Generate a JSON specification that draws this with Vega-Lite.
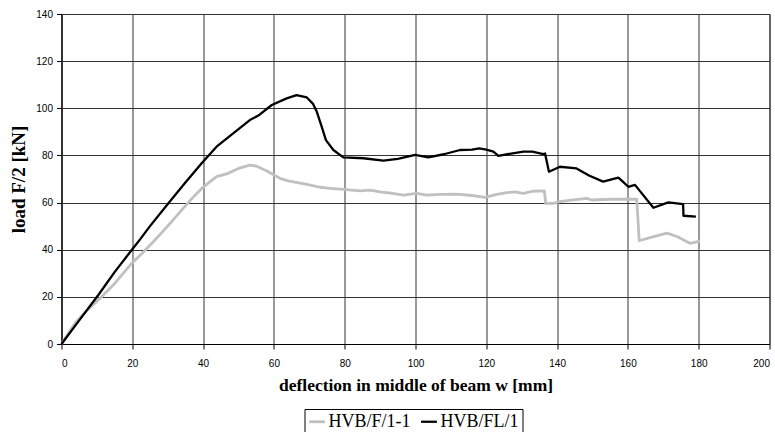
{
  "$schema": "https://vega.github.io/schema/vega-lite/v6.json",
  "width": 708,
  "height": 330,
  "autosize": {"type": "none"},
  "padding": {"left": 61.5, "top": 14, "right": 5.5, "bottom": 88},
  "background": "white",
  "config": {
    "view": {"stroke": "#333", "strokeWidth": 1},
    "axis": {
      "labelFont": "Liberation Sans",
      "labelFontSize": 10,
      "labelColor": "black",
      "titleFont": "Liberation Serif",
      "titleFontWeight": "bold",
      "titleColor": "black",
      "domainColor": "black",
      "tickColor": "black",
      "tickSize": 5,
      "gridColor": "#333",
      "gridOpacity": 1,
      "gridWidth": 1
    }
  },
  "data": {
    "values": [
      {"s":"HVB/F/1-1","i":0,"x":0,"y":0},
      {"s":"HVB/F/1-1","i":1,"x":3.8,"y":8.8},
      {"s":"HVB/F/1-1","i":2,"x":7,"y":14},
      {"s":"HVB/F/1-1","i":3,"x":10.4,"y":18.7},
      {"s":"HVB/F/1-1","i":4,"x":15.1,"y":25.8},
      {"s":"HVB/F/1-1","i":5,"x":19.8,"y":34.2},
      {"s":"HVB/F/1-1","i":6,"x":22.8,"y":38.5},
      {"s":"HVB/F/1-1","i":7,"x":26.4,"y":44.1},
      {"s":"HVB/F/1-1","i":8,"x":30,"y":50},
      {"s":"HVB/F/1-1","i":9,"x":34,"y":56.9},
      {"s":"HVB/F/1-1","i":10,"x":37,"y":62},
      {"s":"HVB/F/1-1","i":11,"x":39.6,"y":66},
      {"s":"HVB/F/1-1","i":12,"x":43.8,"y":71},
      {"s":"HVB/F/1-1","i":13,"x":47.1,"y":72.4},
      {"s":"HVB/F/1-1","i":14,"x":50,"y":74.5},
      {"s":"HVB/F/1-1","i":15,"x":53.2,"y":75.9},
      {"s":"HVB/F/1-1","i":16,"x":55,"y":75.5},
      {"s":"HVB/F/1-1","i":17,"x":58,"y":73.4},
      {"s":"HVB/F/1-1","i":18,"x":61.7,"y":70.3},
      {"s":"HVB/F/1-1","i":19,"x":64,"y":69.2},
      {"s":"HVB/F/1-1","i":20,"x":67.4,"y":68.2},
      {"s":"HVB/F/1-1","i":21,"x":70,"y":67.5},
      {"s":"HVB/F/1-1","i":22,"x":73,"y":66.5},
      {"s":"HVB/F/1-1","i":23,"x":76,"y":66},
      {"s":"HVB/F/1-1","i":24,"x":79.6,"y":65.6},
      {"s":"HVB/F/1-1","i":25,"x":84.3,"y":65},
      {"s":"HVB/F/1-1","i":26,"x":87.1,"y":65.3},
      {"s":"HVB/F/1-1","i":27,"x":90,"y":64.5},
      {"s":"HVB/F/1-1","i":28,"x":93,"y":64},
      {"s":"HVB/F/1-1","i":29,"x":96.6,"y":63.2},
      {"s":"HVB/F/1-1","i":30,"x":100.3,"y":63.9},
      {"s":"HVB/F/1-1","i":31,"x":103.2,"y":63.2},
      {"s":"HVB/F/1-1","i":32,"x":107,"y":63.5},
      {"s":"HVB/F/1-1","i":33,"x":111.6,"y":63.6},
      {"s":"HVB/F/1-1","i":34,"x":116,"y":63},
      {"s":"HVB/F/1-1","i":35,"x":119.6,"y":62.2},
      {"s":"HVB/F/1-1","i":36,"x":123,"y":63.5},
      {"s":"HVB/F/1-1","i":37,"x":125.8,"y":64.2},
      {"s":"HVB/F/1-1","i":38,"x":128,"y":64.5},
      {"s":"HVB/F/1-1","i":39,"x":130.5,"y":63.9},
      {"s":"HVB/F/1-1","i":40,"x":133,"y":64.8},
      {"s":"HVB/F/1-1","i":41,"x":136.4,"y":65},
      {"s":"HVB/F/1-1","i":42,"x":136.8,"y":59.7},
      {"s":"HVB/F/1-1","i":43,"x":138.9,"y":59.7},
      {"s":"HVB/F/1-1","i":44,"x":140.8,"y":60.4},
      {"s":"HVB/F/1-1","i":45,"x":144,"y":61},
      {"s":"HVB/F/1-1","i":46,"x":148.4,"y":61.8},
      {"s":"HVB/F/1-1","i":47,"x":149.8,"y":61.1},
      {"s":"HVB/F/1-1","i":48,"x":155,"y":61.4},
      {"s":"HVB/F/1-1","i":49,"x":162.5,"y":61.5},
      {"s":"HVB/F/1-1","i":50,"x":163.2,"y":43.8},
      {"s":"HVB/F/1-1","i":51,"x":166,"y":45},
      {"s":"HVB/F/1-1","i":52,"x":171,"y":47},
      {"s":"HVB/F/1-1","i":53,"x":171.9,"y":46.6},
      {"s":"HVB/F/1-1","i":54,"x":174,"y":45.5},
      {"s":"HVB/F/1-1","i":55,"x":177.5,"y":42.7},
      {"s":"HVB/F/1-1","i":56,"x":180.4,"y":43.6},
      {"s":"HVB/FL/1","i":0,"x":0,"y":0},
      {"s":"HVB/FL/1","i":1,"x":5,"y":10},
      {"s":"HVB/FL/1","i":2,"x":10.4,"y":20.8},
      {"s":"HVB/FL/1","i":3,"x":15,"y":30.5},
      {"s":"HVB/FL/1","i":4,"x":20,"y":40.2},
      {"s":"HVB/FL/1","i":5,"x":22.2,"y":44.4},
      {"s":"HVB/FL/1","i":6,"x":25,"y":50},
      {"s":"HVB/FL/1","i":7,"x":30.2,"y":59.7},
      {"s":"HVB/FL/1","i":8,"x":35,"y":68.5},
      {"s":"HVB/FL/1","i":9,"x":39.6,"y":76.7},
      {"s":"HVB/FL/1","i":10,"x":43.8,"y":83.7},
      {"s":"HVB/FL/1","i":11,"x":48.5,"y":89.4},
      {"s":"HVB/FL/1","i":12,"x":53.2,"y":95},
      {"s":"HVB/FL/1","i":13,"x":55.6,"y":96.9},
      {"s":"HVB/FL/1","i":14,"x":59.4,"y":101.4},
      {"s":"HVB/FL/1","i":15,"x":63.6,"y":104.2},
      {"s":"HVB/FL/1","i":16,"x":66.4,"y":105.6},
      {"s":"HVB/FL/1","i":17,"x":69.3,"y":104.6},
      {"s":"HVB/FL/1","i":18,"x":71,"y":102},
      {"s":"HVB/FL/1","i":19,"x":72.1,"y":98.6},
      {"s":"HVB/FL/1","i":20,"x":73.5,"y":92.2},
      {"s":"HVB/FL/1","i":21,"x":74.7,"y":86.5},
      {"s":"HVB/FL/1","i":22,"x":76.8,"y":82.3},
      {"s":"HVB/FL/1","i":23,"x":79.6,"y":79.2},
      {"s":"HVB/FL/1","i":24,"x":85.3,"y":78.8},
      {"s":"HVB/FL/1","i":25,"x":90.9,"y":77.8},
      {"s":"HVB/FL/1","i":26,"x":95,"y":78.5},
      {"s":"HVB/FL/1","i":27,"x":99.9,"y":80.2},
      {"s":"HVB/FL/1","i":28,"x":103.6,"y":79.2},
      {"s":"HVB/FL/1","i":29,"x":108,"y":80.5},
      {"s":"HVB/FL/1","i":30,"x":112.6,"y":82.3},
      {"s":"HVB/FL/1","i":31,"x":116,"y":82.5},
      {"s":"HVB/FL/1","i":32,"x":118,"y":83},
      {"s":"HVB/FL/1","i":33,"x":120,"y":82.5},
      {"s":"HVB/FL/1","i":34,"x":122,"y":81.6},
      {"s":"HVB/FL/1","i":35,"x":123.4,"y":79.8},
      {"s":"HVB/FL/1","i":36,"x":127,"y":80.8},
      {"s":"HVB/FL/1","i":37,"x":130.5,"y":81.6},
      {"s":"HVB/FL/1","i":38,"x":133,"y":81.6},
      {"s":"HVB/FL/1","i":39,"x":136.1,"y":80.6},
      {"s":"HVB/FL/1","i":40,"x":136.6,"y":80.8},
      {"s":"HVB/FL/1","i":41,"x":137.7,"y":73.1},
      {"s":"HVB/FL/1","i":42,"x":140.8,"y":75.2},
      {"s":"HVB/FL/1","i":43,"x":145.5,"y":74.5},
      {"s":"HVB/FL/1","i":44,"x":149,"y":71.5},
      {"s":"HVB/FL/1","i":45,"x":153,"y":68.9},
      {"s":"HVB/FL/1","i":46,"x":157.3,"y":70.6},
      {"s":"HVB/FL/1","i":47,"x":158.5,"y":69},
      {"s":"HVB/FL/1","i":48,"x":160.1,"y":66.7},
      {"s":"HVB/FL/1","i":49,"x":162,"y":67.5},
      {"s":"HVB/FL/1","i":50,"x":167.2,"y":57.8},
      {"s":"HVB/FL/1","i":51,"x":171.4,"y":60.1},
      {"s":"HVB/FL/1","i":52,"x":175.6,"y":59.3},
      {"s":"HVB/FL/1","i":53,"x":175.7,"y":54.4},
      {"s":"HVB/FL/1","i":54,"x":179.2,"y":54}
    ]
  },
  "mark": {"type": "line", "interpolate": "linear", "strokeJoin": "round"},
  "encoding": {
    "x": {
      "field": "x", "type": "quantitative",
      "scale": {"domain": [0, 200], "nice": false, "zero": false},
      "axis": {"values": [0,20,40,60,80,100,120,140,160,180,200], "title": "deflection in middle of beam w [mm]", "titleFontSize": 17.5, "labelPadding": 9, "titlePadding": 8}
    },
    "y": {
      "field": "y", "type": "quantitative",
      "scale": {"domain": [0, 140], "nice": false},
      "axis": {"values": [0,20,40,60,80,100,120,140], "title": "load F/2 [kN]", "titleFontSize": 19, "labelPadding": 4, "titlePadding": 7}
    },
    "order": {"field": "i", "type": "quantitative"},
    "color": {
      "field": "s", "type": "nominal",
      "scale": {"domain": ["HVB/F/1-1", "HVB/FL/1"], "range": ["#c0c0c0", "#000000"]},
      "legend": {
        "title": null,
        "orient": "none",
        "legendX": 243,
        "legendY": 395,
        "direction": "horizontal",
        "symbolType": "stroke",
        "symbolStrokeWidth": 2.5,
        "symbolSize": 250,
        "labelFont": "Liberation Serif",
        "labelFontSize": 18,
        "labelColor": "black",
        "strokeColor": "black",
        "padding": 3,
        "columnPadding": 4,
        "labelOffset": 2,
        "fillColor": "white"
      }
    },
    "strokeWidth": {
      "field": "s", "type": "nominal",
      "scale": {"domain": ["HVB/F/1-1", "HVB/FL/1"], "range": [2.8, 2.3]},
      "legend": null
    }
  }
}
